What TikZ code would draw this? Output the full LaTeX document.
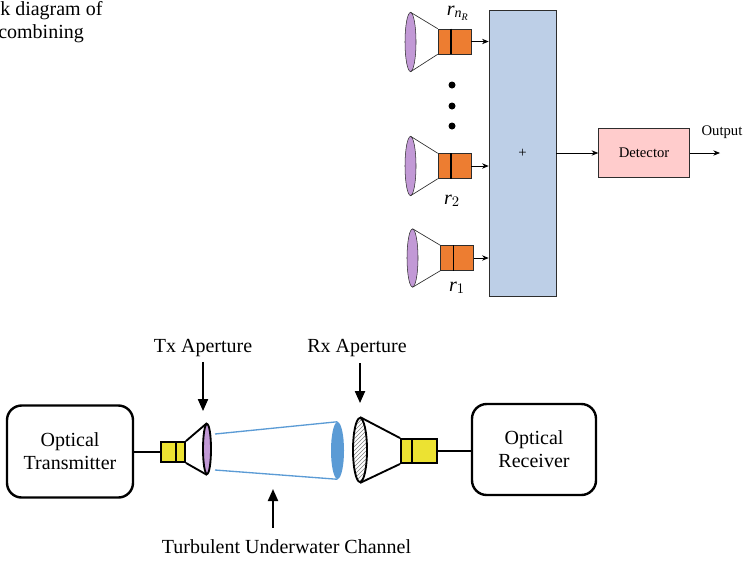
\documentclass[tikz,border=0pt]{standalone}
\usepackage{amsmath}
\usepackage{fontspec}
\setmainfont{Liberation Serif}
\usepackage{tikz}
\usetikzlibrary{shapes.geometric, arrows.meta, positioning, calc, patterns}
\definecolor{feedorange}{RGB}{237, 125, 49}
\definecolor{feedyellow}{RGB}{236, 226, 50}
\definecolor{lenspurple}{RGB}{194, 153, 214}
\definecolor{sumblue}{RGB}{189, 207, 231}
\definecolor{detpink}{RGB}{255, 204, 204}
\definecolor{beamblue}{RGB}{91, 155, 213}
\definecolor{edgegray}{RGB}{45, 45, 45}

\begin{document}
\begin{tikzpicture}[
    x=0.75pt, y=-0.75pt,
    txt/.style={font=\fontsize{15}{17}\selectfont, inner sep=0pt},
    small/.style={font=\fontsize{11}{13}\selectfont},
    lens/.style={ellipse, draw=edgegray, fill=lenspurple, inner sep=0pt, minimum width=8.25pt, minimum height=44.25pt},
    feed/.style={draw=edgegray, fill=feedorange, inner sep=0pt, minimum width=24.75pt, minimum height=18.75pt},
    cone/.style={draw=edgegray, line width=0.5pt},
    split/.style={line width=1.2pt},
    dot/.style={circle, fill=black, inner sep=0pt, minimum size=5.25pt},
    arrow/.style={-{Stealth[length=5pt, width=4pt]}, line width=0.6pt},
    block/.style={draw, rounded corners=11pt, line width=1.8pt, align=center, font=\fontsize{15}{17.25}\selectfont, minimum width=94.5pt, minimum height=69pt},
    bigarrow/.style={-{Triangle[length=9pt, width=7.5pt]}, line width=1.5pt},
    beam/.style={draw=beamblue, line width=1pt}
]
    \useasboundingbox (0,0) rectangle (748,561);

    % caption text cut at the page edge
    \node[txt, anchor=base west] (cap1) at (0,15) {k diagram of};
    \node[txt, anchor=base west] (cap2) at (-2,38) {combining};

    % receiver branches and combiner
    \node[draw=edgegray, fill=sumblue, minimum width=50.25pt, minimum height=214.5pt, small] (sum) at (522.5,153) {+};

    \node[lens] (lensnR) at (410.5,42) {};
    \node[feed] (feednR) at (454.5,41.5) {};
    \draw[cone] (lensnR.north) -- (feednR.north west);
    \draw[cone] (lensnR.south) -- (feednR.south west);
    \draw[split] ($(feednR.north west)!0.39!(feednR.north east)$) -- ($(feednR.south west)!0.39!(feednR.south east)$);
    \node[txt, anchor=base] (lblnR) at (458,15) {$\textit{r}_{\textit{n}_{\textit{R}}}$};

    \node[dot] (dot1) at (452,85) {};
    \node[dot] (dot2) at (452,106) {};
    \node[dot] (dot3) at (452,126) {};

    \node[lens] (lens2) at (410.5,166) {};
    \node[feed] (feed2) at (454.5,166) {};
    \draw[cone] (lens2.north) -- (feed2.north west);
    \draw[cone] (lens2.south) -- (feed2.south west);
    \draw[split] ($(feed2.north west)!0.39!(feed2.north east)$) -- ($(feed2.south west)!0.39!(feed2.south east)$);
    \node[txt, anchor=base] (lbl2) at (452,204) {$\textit{r}_2$};

    \node[lens, minimum height=43.5pt] (lens1) at (412.5,258) {};
    \node[feed] (feed1) at (457,258) {};
    \draw[cone] (lens1.north) -- (feed1.north west);
    \draw[cone] (lens1.south) -- (feed1.south west);
    \draw[split] ($(feed1.north west)!0.39!(feed1.north east)$) -- ($(feed1.south west)!0.39!(feed1.south east)$);
    \node[txt, anchor=base] (lbl1) at (457,291) {$\textit{r}_1$};

    \draw[arrow] (feednR) -- (feednR -| sum.west);
    \draw[arrow] (feed2) -- (feed2 -| sum.west);
    \draw[arrow] (feed1) -- (feed1 -| sum.west);

    \node[draw=edgegray, fill=detpink, minimum width=68.25pt, minimum height=36.75pt, small, right=31.5pt of sum] (det) {Detector};
    \coordinate (out) at (720,153);
    \draw[arrow] (sum) -- (det);
    \draw[arrow] (det) -- (out);
    \node[small, anchor=base, inner sep=0pt] (outlbl) at (722,135) {Output};

    % underwater link
    \node[block] (tx) at (70,451.5) {Optical\\Transmitter};
    \node[block, minimum width=93pt, minimum height=68.25pt] (rx) at (534,449.5) {Optical\\Receiver};

    \node[feed, fill=feedyellow, draw=black, line width=1.4pt, minimum width=18pt, minimum height=15pt] (txfeed) at (173,452) {};
    \node[lens, draw=black, line width=1.4pt, minimum width=6pt, minimum height=37.5pt] (txlens) at (207,449) {};
    \draw[line width=1.4pt] (txfeed.north east) -- (txlens.north);
    \draw[line width=1.4pt] (txfeed.south east) -- (txlens.south);
    \draw[line width=1.4pt] ($(txfeed.north west)!0.62!(txfeed.north east)$) -- ($(txfeed.south west)!0.62!(txfeed.south east)$);
    \draw[line width=1.8pt] (tx.east |- txfeed) -- (txfeed.west);

    \coordinate (beamtop) at (215,434);
    \coordinate (beambot) at (215,470);
    \node[ellipse, fill=beamblue, inner sep=0pt, minimum width=9.75pt, minimum height=42.75pt] (chan) at (337.5,450.5) {};
    \draw[beam] (beamtop) -- (chan.north);
    \draw[beam] (beambot) -- (chan.south);

    \node[ellipse, draw=black, line width=1.4pt, pattern=north east lines, pattern color=gray, inner sep=0pt, minimum width=10.5pt, minimum height=48pt] (rxlens) at (360,450) {};
    \node[feed, fill=feedyellow, draw=black, line width=1.4pt, minimum width=27pt, minimum height=18pt] (rxfeed) at (419,451) {};
    \draw[line width=1.4pt] (rxlens.north) -- (rxfeed.north west);
    \draw[line width=1.4pt] (rxlens.south) -- (rxfeed.south west);
    \draw[line width=1.4pt] ($(rxfeed.north west)!0.31!(rxfeed.north east)$) -- ($(rxfeed.south west)!0.31!(rxfeed.south east)$);
    \draw[line width=1.8pt] (rxfeed.east) -- (rxfeed -| rx.west);

    \node[txt, anchor=base] (txlbl) at (203,352) {Tx Aperture};
    \node[txt, anchor=base] (rxlbl) at (357,352) {Rx Aperture};
    \node[txt, anchor=base] (chanlbl) at (286.5,553) {Turbulent Underwater Channel};
    \coordinate (chanpt) at (273,489);

    \draw[bigarrow, shorten <=4pt, shorten >=9pt] (txlbl.south) -- (txlbl.south |- txlens.north);
    \draw[bigarrow, shorten <=5pt, shorten >=10.5pt] (rxlens.north |- rxlbl.south) -- (rxlens.north);
    \draw[bigarrow, shorten <=8.5pt] (chanlbl.north -| chanpt) -- (chanpt);
\end{tikzpicture}
\end{document}
